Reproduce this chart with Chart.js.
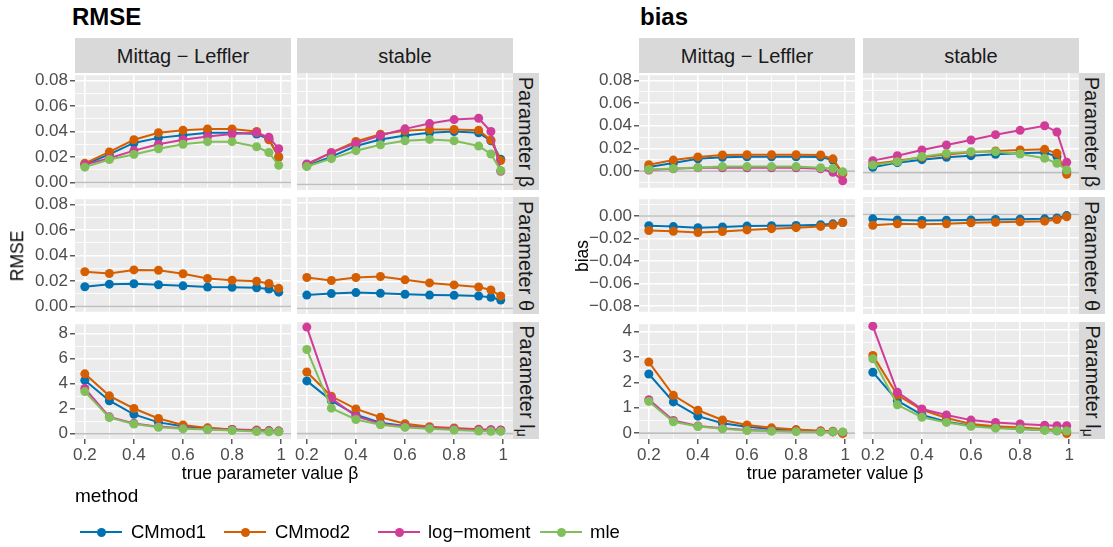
<!DOCTYPE html>
<html>
<head>
<meta charset="utf-8">
<script src="https://cdn.jsdelivr.net/npm/chart.js@4.4.0/dist/chart.umd.min.js"></script>
<style>
  body { margin: 0; background: #fff; font-family: "Liberation Sans", Arial, sans-serif; }
  #fig { position: relative; width: 1113px; height: 547px; overflow: hidden; }
  .t { position: absolute; white-space: nowrap; line-height: 1; }
  .strip { position: absolute; background: #D9D9D9; }
  canvas { position: absolute; }
</style>
</head>
<body>
<div id="fig"></div>
<script>
// x values (true beta) and methods
const betas = [0.2, 0.3, 0.4, 0.5, 0.6, 0.7, 0.8, 0.9, 0.95, 0.99];
const methods = ['CMmod1', 'CMmod2', 'log\u2212moment', 'mle'];
const colors = ['#0072B2', '#D55E00', '#D03C97', '#80BF5A'];

// RMSE, parameter beta  [CMmod1, CMmod2, log-moment, mle]
const rmseBetaML = [
  [0.014, 0.022, 0.031, 0.035, 0.037, 0.039, 0.039, 0.038, 0.034, 0.020],
  [0.015, 0.024, 0.0335, 0.039, 0.041, 0.042, 0.042, 0.040, 0.0335, 0.020],
  [0.014, 0.019, 0.025, 0.030, 0.0335, 0.036, 0.038, 0.039, 0.0355, 0.0265],
  [0.012, 0.018, 0.022, 0.0265, 0.030, 0.032, 0.032, 0.028, 0.0235, 0.0135]
];
const rmseBetaST = [
  [0.014, 0.021, 0.029, 0.034, 0.037, 0.039, 0.040, 0.039, 0.033, 0.019],
  [0.015, 0.024, 0.0325, 0.038, 0.0405, 0.0415, 0.0415, 0.041, 0.0335, 0.018],
  [0.0155, 0.024, 0.031, 0.037, 0.042, 0.046, 0.049, 0.050, 0.040, 0.010],
  [0.0135, 0.0195, 0.0255, 0.030, 0.033, 0.034, 0.033, 0.029, 0.023, 0.0105]
];
// RMSE, parameter theta  [CMmod1, CMmod2]
const rmseThetaML = [
  [0.0155, 0.0175, 0.0178, 0.017, 0.0162, 0.0152, 0.015, 0.0147, 0.0137, 0.0112],
  [0.0272, 0.0259, 0.0287, 0.0284, 0.0257, 0.0219, 0.0206, 0.0198, 0.018, 0.0142]
];
const rmseThetaST = [
  [0.0101, 0.0112, 0.012, 0.0114, 0.0107, 0.0101, 0.0099, 0.0094, 0.0084, 0.0063],
  [0.0234, 0.0211, 0.0234, 0.0241, 0.0216, 0.0193, 0.0178, 0.0162, 0.0139, 0.0094]
];
// RMSE, parameter l_mu
const rmseLmuML = [
  [4.27, 2.64, 1.55, 0.91, 0.60, 0.44, 0.34, 0.26, 0.23, 0.18],
  [4.79, 3.03, 2.02, 1.22, 0.70, 0.47, 0.34, 0.29, 0.23, 0.21],
  [3.62, 1.35, 0.83, 0.57, 0.44, 0.36, 0.31, 0.26, 0.23, 0.21],
  [3.37, 1.29, 0.78, 0.52, 0.39, 0.34, 0.26, 0.18, 0.16, 0.16]
];
const rmseLmuST = [
  [4.14, 2.59, 1.48, 0.85, 0.60, 0.47, 0.36, 0.29, 0.26, 0.23],
  [4.84, 2.93, 1.94, 1.29, 0.78, 0.54, 0.44, 0.34, 0.29, 0.26],
  [8.36, 2.77, 1.37, 0.78, 0.57, 0.47, 0.39, 0.31, 0.31, 0.29],
  [6.60, 2.00, 1.11, 0.70, 0.49, 0.39, 0.29, 0.21, 0.18, 0.18]
];

// bias, parameter beta
const biasBetaML = [
  [0.0037, 0.0071, 0.0108, 0.0122, 0.0127, 0.0127, 0.0127, 0.0125, 0.0097, -0.002],
  [0.0057, 0.0097, 0.0125, 0.0142, 0.0144, 0.0144, 0.0144, 0.0142, 0.0108, -0.002],
  [0.001, 0.002, 0.003, 0.003, 0.003, 0.003, 0.003, 0.002, -0.001, -0.0085],
  [0.0014, 0.0023, 0.0031, 0.004, 0.004, 0.004, 0.004, 0.003, 0.0023, -0.0005]
];
const biasBetaST = [
  [0.0046, 0.0085, 0.011, 0.013, 0.0144, 0.0156, 0.0164, 0.017, 0.0136, 0.0009],
  [0.0074, 0.0102, 0.013, 0.0153, 0.0173, 0.0184, 0.0192, 0.0198, 0.0164, -0.0014],
  [0.0102, 0.0144, 0.0192, 0.0235, 0.0277, 0.0322, 0.0359, 0.0398, 0.0345, 0.0088],
  [0.0065, 0.0093, 0.0136, 0.0164, 0.0178, 0.0178, 0.0158, 0.0122, 0.008, 0.0023]
];
// bias, parameter theta
const biasThetaML = [
  [-0.0086, -0.0094, -0.0103, -0.0097, -0.0089, -0.0086, -0.0083, -0.0077, -0.0069, -0.0057],
  [-0.0129, -0.0135, -0.0146, -0.0137, -0.0123, -0.0112, -0.0103, -0.0092, -0.008, -0.0057]
];
const biasThetaST = [
  [-0.0037, -0.0046, -0.0051, -0.0049, -0.0046, -0.0043, -0.004, -0.0037, -0.0029, -0.0009],
  [-0.0092, -0.008, -0.0083, -0.008, -0.0071, -0.0066, -0.0063, -0.0057, -0.0043, -0.002]
];
// bias, parameter l_mu
const biasLmuML = [
  [2.33, 1.23, 0.67, 0.39, 0.25, 0.16, 0.12, 0.08, 0.06, 0.02],
  [2.80, 1.49, 0.90, 0.52, 0.32, 0.21, 0.14, 0.09, 0.08, -0.02],
  [1.32, 0.50, 0.28, 0.19, 0.12, 0.09, 0.08, 0.06, 0.05, 0.04],
  [1.25, 0.45, 0.26, 0.17, 0.10, 0.08, 0.06, 0.05, 0.05, 0.05]
];
const biasLmuST = [
  [2.35, 1.25, 0.70, 0.44, 0.28, 0.21, 0.16, 0.12, 0.09, 0.05],
  [3.00, 1.47, 0.90, 0.58, 0.35, 0.26, 0.21, 0.16, 0.12, -0.02],
  [4.13, 1.58, 0.93, 0.70, 0.50, 0.41, 0.35, 0.30, 0.28, 0.28],
  [2.87, 1.09, 0.61, 0.41, 0.26, 0.19, 0.16, 0.11, 0.09, 0.08]
];

// tick values and labels
const xTicks = [0.2, 0.4, 0.6, 0.8, 1.0];
const xTickLabels = ['0.2', '0.4', '0.6', '0.8', '1'];
const smallTicks = [0, 0.02, 0.04, 0.06, 0.08];
const smallTickLabels = ['0.00', '0.02', '0.04', '0.06', '0.08'];
const negTicks = [-0.08, -0.06, -0.04, -0.02, 0];
const negTickLabels = ['\u22120.08', '\u22120.06', '\u22120.04', '\u22120.02', '0.00'];
const rmseLmuTicks = [0, 2, 4, 6, 8];
const rmseLmuTickLabels = ['0', '2', '4', '6', '8'];
const biasLmuTicks = [0, 1, 2, 3, 4];
const biasLmuTickLabels = ['0', '1', '2', '3', '4'];

const FONT = '"Liberation Sans", Arial, sans-serif';
const X_MIN = 0.16, X_MAX = 1.04;
const fig = document.getElementById('fig');

function majorIndex(v, majors) {
  return majors.findIndex(m => Math.abs(m - v) < 1e-9);
}
// majors plus ggplot-style minor breaks inside the range
function withMinor(majors, min, max) {
  const step = majors[1] - majors[0];
  const out = [];
  for (let k = -2; k <= (majors.length - 1) * 2 + 2; k++) {
    const v = Math.round((majors[0] + k * step / 2) * 1e6) / 1e6;
    if (v >= min - 1e-9 && v <= max + 1e-9) out.push(v);
  }
  return out;
}

function txt(html, x, y, css, anchor, rot) {
  const d = document.createElement('div');
  d.className = 't';
  d.innerHTML = html;
  d.style.cssText += css;
  d.style.left = x + 'px';
  d.style.top = y + 'px';
  d.style.transform = 'translate(' + (anchor === 'l' ? '0' : '-50%') + ',-50%)' + (rot ? ' rotate(' + rot + 'deg)' : '');
  fig.appendChild(d);
}
function box(x, y, w, h) {
  const d = document.createElement('div');
  d.className = 'strip';
  d.style.left = x + 'px'; d.style.top = y + 'px';
  d.style.width = w + 'px'; d.style.height = h + 'px';
  fig.appendChild(d);
}

const panelBg = {
  id: 'panelBg',
  beforeDraw(chart) {
    const a = chart.chartArea, ctx = chart.ctx;
    ctx.save();
    ctx.fillStyle = '#EBEBEB';
    ctx.fillRect(a.left, a.top, a.right - a.left, a.bottom - a.top);
    ctx.restore();
  }
};
const zeroLine = {
  id: 'zeroLine',
  beforeDatasetsDraw(chart) {
    const a = chart.chartArea, ctx = chart.ctx;
    const py = chart.scales.y.getPixelForValue(0);
    ctx.save();
    ctx.strokeStyle = '#BEBEBE';
    ctx.lineWidth = 1.6;
    ctx.beginPath();
    ctx.moveTo(a.left, py);
    ctx.lineTo(a.right, py);
    ctx.stroke();
    ctx.restore();
  }
};

function facet(p) {
  const padL = 14, padR = 14, padT = 10, padB = 10;
  const axW = p.showY ? p.axisW : 0;
  const axH = p.showX ? 30 : 0;
  const W = padL + axW + p.w + padR, H = padT + p.h + axH + padB;
  const cv = document.createElement('canvas');
  cv.width = W; cv.height = H;
  cv.style.left = (p.x - axW - padL) + 'px';
  cv.style.top = (p.y - padT) + 'px';
  cv.style.width = W + 'px';
  cv.style.height = H + 'px';
  fig.appendChild(cv);

  const xAll = withMinor(xTicks, X_MIN, X_MAX);
  const yAll = withMinor(p.yTicks, p.yMin, p.yMax);
  const nSeries = p.series.length;

  new Chart(cv, {
    type: 'line',
    data: {
      datasets: p.series.map((vals, i) => ({
        label: methods[i],
        data: betas.map((b, j) => ({ x: b, y: vals[j] })),
        borderColor: colors[i],
        backgroundColor: colors[i],
        borderWidth: 2,
        pointRadius: 4.5,
        pointBorderWidth: 0,
        tension: 0,
        order: nSeries - 1 - i
      }))
    },
    options: {
      responsive: false,
      animation: false,
      devicePixelRatio: 1,
      layout: { autoPadding: false, padding: { left: padL, right: padR, top: padT, bottom: padB } },
      plugins: { legend: { display: false }, tooltip: { enabled: false } },
      scales: {
        x: {
          type: 'linear', min: X_MIN, max: X_MAX,
          afterBuildTicks: s => { s.ticks = xAll.map(v => ({ value: v })); },
          afterFit: s => { s.height = axH; },
          border: { display: false },
          grid: {
            color: '#FFFFFF',
            lineWidth: c => (c.tick && majorIndex(c.tick.value, xTicks) >= 0) ? 1.6 : 0.8,
            drawTicks: p.showX,
            tickLength: 5,
            tickWidth: 1.2,
            tickColor: c => (c.tick && majorIndex(c.tick.value, xTicks) >= 0) ? '#333333' : 'rgba(0,0,0,0)'
          },
          ticks: {
            display: p.showX, autoSkip: false, maxRotation: 0, minRotation: 0, padding: 1,
            color: '#4D4D4D', font: { family: FONT, size: 17 },
            callback: v => { const k = majorIndex(v, xTicks); return k < 0 ? '' : xTickLabels[k]; }
          }
        },
        y: {
          type: 'linear', min: p.yMin, max: p.yMax,
          afterBuildTicks: s => { s.ticks = yAll.map(v => ({ value: v })); },
          afterFit: s => { s.width = axW; },
          border: { display: false },
          grid: {
            color: '#FFFFFF',
            lineWidth: c => (c.tick && majorIndex(c.tick.value, p.yTicks) >= 0) ? 1.6 : 0.8,
            drawTicks: p.showY,
            tickLength: 5,
            tickWidth: 1.2,
            tickColor: c => (c.tick && majorIndex(c.tick.value, p.yTicks) >= 0) ? '#333333' : 'rgba(0,0,0,0)'
          },
          ticks: {
            display: p.showY, autoSkip: false, padding: 2,
            color: '#4D4D4D', font: { family: FONT, size: 17 },
            callback: v => { const k = majorIndex(v, p.yTicks); return k < 0 ? '' : p.yLabels[k]; }
          }
        }
      }
    },
    plugins: [panelBg, zeroLine]
  });
}

// ---- layout ----
const PW = 216;
const rowTop = [73, 197, 322];
const rowH = 117;
const blocks = [
  {
    title: 'RMSE', titleX: 72, yTitle: 'RMSE', yTitleX: 18, axisW: 75, xTitleX: 270,
    cols: [75, 297], stripX: 513,
    rows: [
      { data: [rmseBetaML, rmseBetaST], min: -0.0042, max: 0.0842, ticks: smallTicks, labels: smallTickLabels },
      { data: [rmseThetaML, rmseThetaST], min: -0.0042, max: 0.0842, ticks: smallTicks, labels: smallTickLabels },
      { data: [rmseLmuML, rmseLmuST], min: -0.42, max: 8.76, ticks: rmseLmuTicks, labels: rmseLmuTickLabels }
    ]
  },
  {
    title: 'bias', titleX: 640, yTitle: 'bias', yTitleX: 583, axisW: 84, xTitleX: 835,
    cols: [639, 863], stripX: 1079,
    rows: [
      { data: [biasBetaML, biasBetaST], min: -0.0147, max: 0.0845, ticks: smallTicks, labels: smallTickLabels },
      { data: [biasThetaML, biasThetaST], min: -0.0852, max: 0.0150, ticks: negTicks, labels: negTickLabels },
      { data: [biasLmuML, biasLmuST], min: -0.23, max: 4.29, ticks: biasLmuTicks, labels: biasLmuTickLabels }
    ]
  }
];
const colNames = ['Mittag \u2212 Leffler', 'stable'];
const rowNames = ['Parameter \u03B2', 'Parameter \u03B8', 'Parameter l<sub style="font-size:14px;vertical-align:-3px">\u03BC</sub>'];

blocks.forEach(b => {
  txt(b.title, b.titleX, 17, 'font-size:24px;font-weight:bold;color:#000;', 'l');
  b.cols.forEach((cx, ci) => {
    box(cx, 38, PW, 35);
    txt(colNames[ci], cx + PW / 2, 56, 'font-size:20px;color:#1A1A1A;');
  });
  rowTop.forEach((ry, ri) => {
    box(b.stripX, ry, 26, rowH);
    txt(rowNames[ri], b.stripX + 13, ry + rowH / 2, 'font-size:20px;color:#1A1A1A;', 'c', 90);
    const row = b.rows[ri];
    b.cols.forEach((cx, ci) => {
      facet({
        x: cx, y: ry, w: PW, h: rowH,
        showY: ci === 0, showX: ri === 2, axisW: b.axisW,
        series: row.data[ci], yMin: row.min, yMax: row.max,
        yTicks: row.ticks, yLabels: row.labels
      });
    });
  });
  txt(b.yTitle, b.yTitleX, 256, 'font-size:17.5px;color:#000;', 'c', -90);
  txt('true parameter value \u03B2', b.xTitleX, 474, 'font-size:17.5px;color:#000;');
});

// ---- legend ----
txt('method', 75, 495, 'font-size:19px;color:#000;', 'l');
const legendKeyX = [80, 224, 378, 540];
const legendTextX = [131, 275, 428, 590];
methods.forEach((m, i) => {
  const line = document.createElement('div');
  line.style.cssText = 'position:absolute;height:2px;width:42px;top:531px;left:' + legendKeyX[i] + 'px;background:' + colors[i];
  fig.appendChild(line);
  const dot = document.createElement('div');
  dot.style.cssText = 'position:absolute;width:9px;height:9px;border-radius:50%;top:527.5px;left:' + (legendKeyX[i] + 16.5) + 'px;background:' + colors[i];
  fig.appendChild(dot);
  txt(m, legendTextX[i], 532, 'font-size:18.5px;color:#000;', 'l');
});
</script>
</body>
</html>
